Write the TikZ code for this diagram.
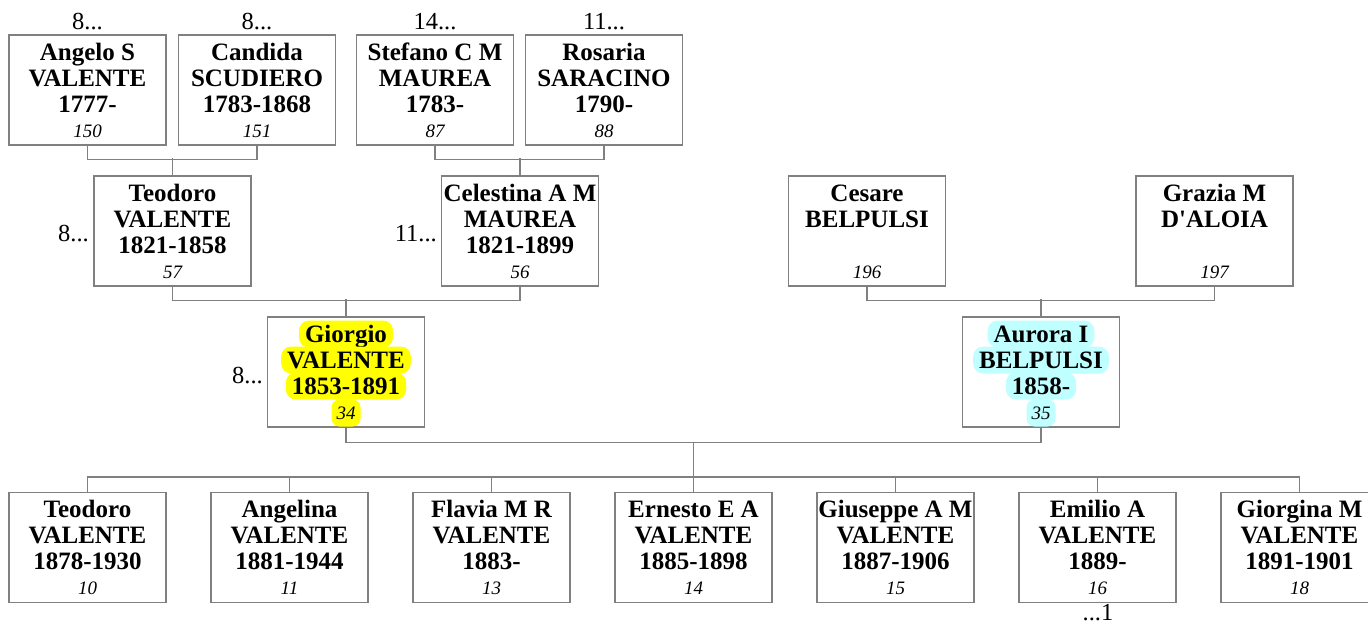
\documentclass[tikz,border=0pt]{standalone}
\usepackage{fontspec}
\setmainfont{Liberation Serif}[Ligatures=TeXOff]
\definecolor{boxgray}{RGB}{128,128,128}
\definecolor{hlyellow}{RGB}{255,255,0}
\definecolor{hlcyan}{RGB}{192,255,255}
\tikzset{
  pbox/.style={draw=boxgray, line width=1.2pt, minimum width=157pt, minimum height=110pt, inner sep=0pt},
  conn/.style={draw=boxgray, line width=1.2pt},
  ln/.style={anchor=base, inner sep=0pt, font=\fontsize{25}{26}\selectfont\bfseries},
  idl/.style={anchor=base, inner sep=0pt, font=\fontsize{19}{22}\selectfont\itshape},
  lbl/.style={inner sep=0pt, font=\fontsize{24.5}{26}\selectfont},
  nohl/.style={},
  hl/.style={fill=#1, rounded corners=10pt, inner xsep=6pt, inner ysep=0.5pt, text height=21pt, text depth=5pt},
  hlid/.style={fill=#1, rounded corners=8pt, inner xsep=5pt, inner ysep=0.5pt, text height=19pt, text depth=7pt},
}
% #1 name, #2 x, #3 y, #4 line1, #5 line2, #6 line3, #7 id, #8 highlight style for lines, #9 highlight style for id
\newcommand\person[9]{%
  \node[pbox] (#1) at (#2,#3) {};
  \node[ln,#8] (#1-a) at (#2,#3-30) {#4};
  \node[ln,#8] (#1-b) at (#2,#3-4) {#5};
  \node[ln,#8] (#1-c) at (#2,#3+22) {#6};
  \node[idl,#9] (#1-d) at (#2,#3+47) {#7};
}
\begin{document}
\begin{tikzpicture}[x=1pt,y=-1pt]
\useasboundingbox (0,0) rectangle (1368,624);
\clip (0,0) rectangle (1368,624);
% row 1
\person{angelo}{87.5}{90}{Angelo S}{VALENTE}{1777-}{150}{nohl}{nohl}
\person{candida}{257}{90}{Candida}{SCUDIERO}{1783-1868}{151}{nohl}{nohl}
\person{stefano}{435}{90}{Stefano C M}{MAUREA}{1783-}{87}{nohl}{nohl}
\person{rosaria}{604}{90}{Rosaria}{SARACINO}{1790-}{88}{nohl}{nohl}
% row 2
\person{teodoro}{172.5}{231}{Teodoro}{VALENTE}{1821-1858}{57}{nohl}{nohl}
\person{celestina}{520}{231}{Celestina A M}{MAUREA}{1821-1899}{56}{nohl}{nohl}
\person{cesare}{867}{231}{Cesare}{BELPULSI}{}{196}{nohl}{nohl}
\person{grazia}{1214.5}{231}{Grazia M}{D'ALOIA}{}{197}{nohl}{nohl}
% row 3
\person{giorgio}{346}{372}{Giorgio}{VALENTE}{1853-1891}{34}{hl=hlyellow}{hlid=hlyellow}
\person{aurora}{1041}{372}{Aurora I}{BELPULSI}{1858-}{35}{hl=hlcyan}{hlid=hlcyan}
% row 4
\person{c1}{87.5}{547.5}{Teodoro}{VALENTE}{1878-1930}{10}{nohl}{nohl}
\person{c2}{289.5}{547.5}{Angelina}{VALENTE}{1881-1944}{11}{nohl}{nohl}
\person{c3}{491.5}{547.5}{Flavia M R}{VALENTE}{1883-}{13}{nohl}{nohl}
\person{c4}{693.5}{547.5}{Ernesto E A}{VALENTE}{1885-1898}{14}{nohl}{nohl}
\person{c5}{895.5}{547.5}{Giuseppe A M}{VALENTE}{1887-1906}{15}{nohl}{nohl}
\person{c6}{1097.5}{547.5}{Emilio A}{VALENTE}{1889-}{16}{nohl}{nohl}
\person{c7}{1299.5}{547.5}{Giorgina M}{VALENTE}{1891-1901}{18}{nohl}{nohl}
% labels
\node[lbl,anchor=base] (la) at (87.5,29) {8...};
\node[lbl,anchor=base] (lb) at (257,29) {8...};
\node[lbl,anchor=base] (lc) at (435,29) {14...};
\node[lbl,anchor=base] (ld) at (604,29) {11...};
\node[lbl,anchor=base east] (le) at (89,241) {8...};
\node[lbl,anchor=base east] (lf) at (437,241) {11...};
\node[lbl,anchor=base east] (lg) at (263,383) {8...};
\node[lbl,anchor=base] (lh) at (1098,620) {...1};
% connectors
\draw[conn] (angelo.south) -- ++(0,14) -| (candida.south);
\draw[conn] (teodoro.north) -- ++(0,-17);
\draw[conn] (stefano.south) -- ++(0,14) -| (rosaria.south);
\draw[conn] (celestina.north) -- ++(0,-17);
\draw[conn] (teodoro.south) -- ++(0,14) -| (celestina.south);
\draw[conn] (giorgio.north) -- ++(0,-17);
\draw[conn] (cesare.south) -- ++(0,14) -| (grazia.south);
\draw[conn] (aurora.north) -- ++(0,-17);
\draw[conn] (giorgio.south) -- ++(0,15) -| (aurora.south);
\draw[conn] (c4.north) -- ++(0,-50);
\draw[conn] (c1.north) -- ++(0,-15) -| (c7.north);
\foreach \c in {c2,c3,c5,c6} \draw[conn] (\c.north) -- ++(0,-15);
\end{tikzpicture}
\end{document}
